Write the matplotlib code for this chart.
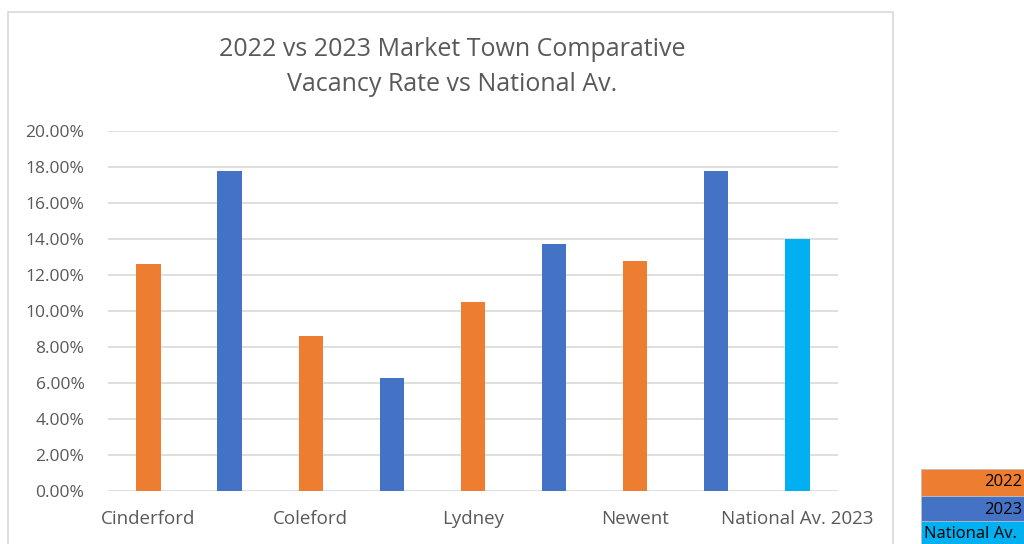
import numpy as np
import matplotlib.pyplot as plt
from matplotlib.patches import Rectangle
from matplotlib.ticker import PercentFormatter

towns = ['Cinderford', 'Coleford', 'Lydney', 'Newent']
rate_2022 = [12.6, 8.6, 10.5, 12.8]
rate_2023 = [17.8, 6.3, 13.7, 17.8]
national_label = 'National Av. 2023'
national_2023 = 14.0

orange = '#ED7D31'
blue = '#4472C4'
cyan = '#00B0F0'
grey = '#595959'

plt.rcParams['font.family'] = ['Open Sans', 'DejaVu Sans']

fig = plt.figure(figsize=(10.24, 5.44), dpi=100)
W, H = 1024, 544

# chart frame
fig.patches.append(Rectangle((8 / W, -0.05), 885 / W, 1 - 12 / H + 0.05,
                             transform=fig.transFigure, fill=False,
                             edgecolor='#D9D9D9', linewidth=1.2))

ax = fig.add_axes([108 / W, (H - 491) / H, 730 / W, 360 / H])

# 9 slots: 2022/2023 pairs per town, then the national bar
vals, cols = [], []
for a, b in zip(rate_2022, rate_2023):
    vals += [a / 100, b / 100]
    cols += [orange, blue]
vals.append(national_2023 / 100)
cols.append(cyan)
x = np.arange(len(vals))
ax.bar(x, vals, width=0.3, color=cols, zorder=3)

ax.set_xlim(-0.5, len(vals) - 0.5)
ax.set_ylim(0, 0.2)
ax.set_yticks(np.arange(0, 0.201, 0.02))
ax.yaxis.set_major_formatter(PercentFormatter(1.0, decimals=2))
ax.set_xticks(x[::2])
ax.set_xticklabels(towns + [national_label])
ax.grid(axis='y', color='#D9D9D9', linewidth=1.2, zorder=0)
for s in ax.spines.values():
    s.set_visible(False)
ax.tick_params(length=0, labelsize=12.5, colors=grey)
ax.tick_params(axis='x', pad=14, labelsize=13.5)
ax.tick_params(axis='y', pad=17)

fig.text(452 / W, 1 - 67 / H,
         '2022 vs 2023 Market Town Comparative\nVacancy Rate vs National Av.',
         ha='center', va='center', fontsize=18, color=grey, linespacing=1.55)

# spreadsheet cells peeking in on the right
cells = [('2022', orange, 469, 'right'), ('2023', blue, 496, 'right'),
         ('National Av.', cyan, 521, 'left')]
for txt, c, top, al in cells:
    h = 27 if top < 521 else 25
    fig.patches.append(Rectangle((921 / W, (H - top - h) / H), 110 / W, h / H,
                                 transform=fig.transFigure, facecolor=c,
                                 edgecolor='#BFBFBF', linewidth=0.6))
    tx = 1022 / W if al == 'right' else 924 / W
    fig.text(tx, (H - top - h / 2) / H, txt, ha=al, va='center',
             fontsize=12, color='black')

plt.savefig('out.png', dpi=100)
